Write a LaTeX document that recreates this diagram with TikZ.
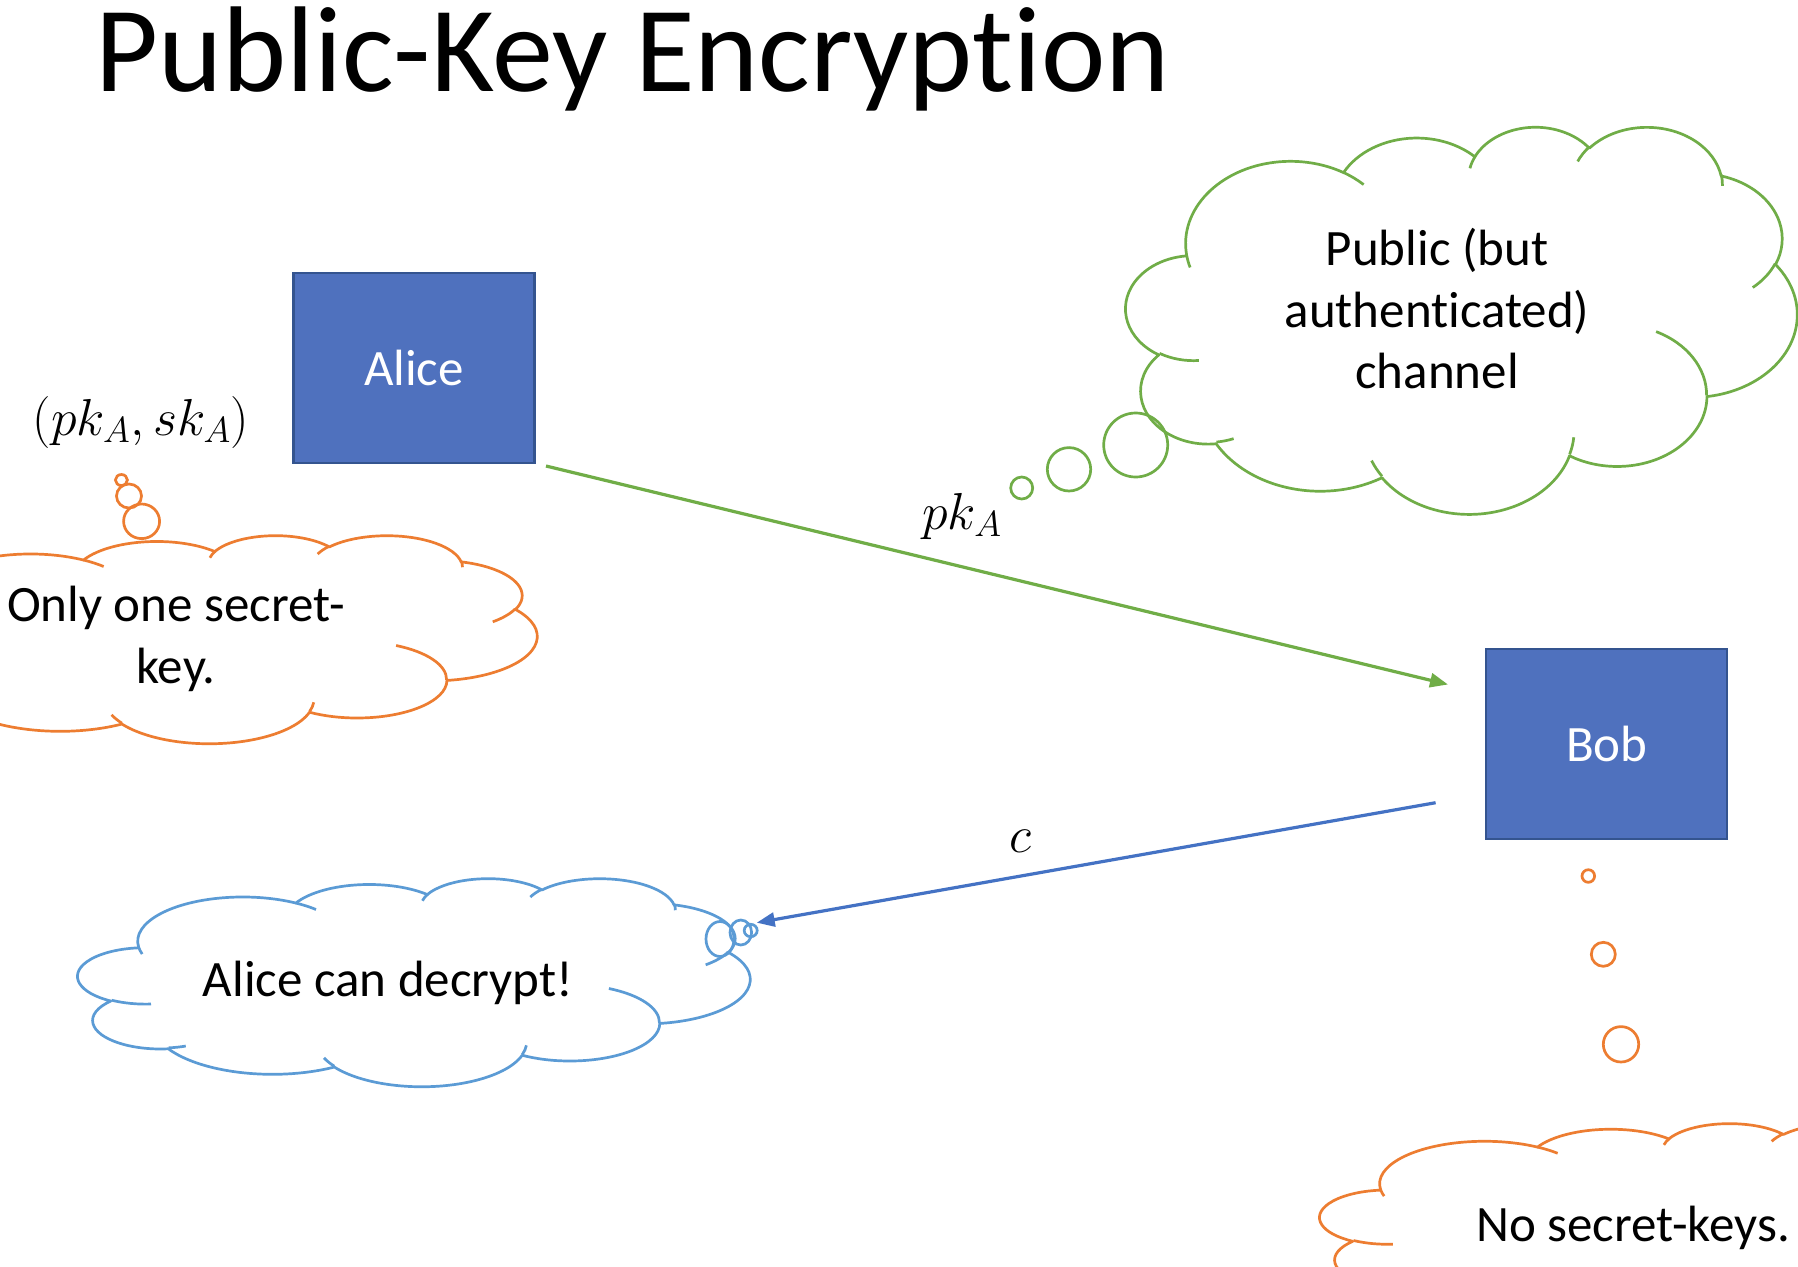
\RequirePackage{fix-cm}
\documentclass[tikz,border=0pt]{standalone}
\usepackage[no-math]{fontspec}
\setmainfont{Carlito}[Ligatures=NoCommon]
\usetikzlibrary{arrows.meta,calc}
\definecolor{pgreen}{HTML}{70AD47}
\definecolor{porange}{HTML}{ED7D31}
\definecolor{plblue}{HTML}{5B9BD5}
\definecolor{pblue}{HTML}{4472C4}
\definecolor{pboxfill}{HTML}{4F71BE}
\definecolor{pdark}{HTML}{34548F}

% one arc of the PowerPoint cloud geometry (visual angles -> parametric)
\newcommand\carc[4]{%
  \pgfextra{%
    \pgfmathsetmacro\cta{atan2((#1)*sin(#3),(#2)*cos(#3))}%
    \pgfmathsetmacro\ctb{atan2((#1)*sin((#3)+(#4)),(#2)*cos((#3)+(#4)))}%
    \pgfmathsetmacro\cdt{\ctb-\cta}%
    \pgfmathsetmacro\cdt{\cdt+360*((#4)>0)*(\cdt<0)-360*((#4)<0)*(\cdt>0)}%
    \pgfmathsetmacro\csa{0-(\cta)}%
    \pgfmathsetmacro\csd{0-(\cdt)}%
    \pgfmathsetmacro\crx{\cW/43.2*(#1)}%
    \pgfmathsetmacro\cry{\cH/43.2*(#2)}%
  }%
  arc[x radius=\crx pt, y radius=\cry pt, start angle=\csa, delta angle=\csd]%
}
% cloud: #1 left, #2 top, #3 width, #4 height, #5 colour
\newcommand\pptcloud[5]{%
  \def\cW{#3}\def\cH{#4}%
  \draw[cloudline,#5] ({#1+#3/43.2*3.900},{#2+#4/43.2*14.370})
    \carc{6.753}{9.190}{-190.48748}{123.78053}
    \carc{5.333}{7.267}{-144.10238}{89.94523}
    \carc{4.365}{5.945}{-145.80792}{99.72302}
    \carc{4.857}{6.595}{-130.98607}{117.24173}
    \carc{5.333}{7.273}{-78.70888}{109.02692}
    \carc{6.775}{9.220}{-46.26725}{130.26900}
    \carc{5.785}{7.867}{0.62502}{114.03333}
    \carc{6.752}{9.215}{22.45160}{115.17255}
    \carc{7.720}{10.543}{66.24263}{75.71102}
    \carc{4.360}{5.918}{-274.94208}{146.73557}
    \carc{4.345}{5.945}{-246.82850}{152.51885}
    -- cycle;
  \draw[cloudline,#5]
    ({#1+#3/43.2*4.693},{#2+#4/43.2*26.177}) \carc{4.345}{5.945}{86.74200}{26.42950}
    ({#1+#3/43.2*6.928},{#2+#4/43.2*34.899}) \carc{4.360}{5.918}{73.61047}{11.44747}
    ({#1+#3/43.2*16.478},{#2+#4/43.2*39.090}) \carc{6.752}{9.215}{137.62415}{14.08110}
    ({#1+#3/43.2*28.827},{#2+#4/43.2*34.751}) \carc{6.752}{9.215}{6.45327}{15.99835}
    ({#1+#3/43.2*34.129},{#2+#4/43.2*22.954}) \carc{5.785}{7.867}{-70.29235}{70.91737}
    ({#1+#3/43.2*41.798},{#2+#4/43.2*15.354}) \carc{5.333}{7.273}{30.31803}{27.75150}
    ({#1+#3/43.2*38.324},{#2+#4/43.2*5.426}) \carc{4.857}{6.595}{-13.74433}{14.85890}
    ({#1+#3/43.2*29.078},{#2+#4/43.2*3.952}) \carc{4.857}{6.595}{-149.18145}{18.19537}
    ({#1+#3/43.2*22.141},{#2+#4/43.2*4.720}) \carc{4.365}{5.945}{-163.49427}{17.68635}
    ({#1+#3/43.2*14.000},{#2+#4/43.2*5.192}) \carc{6.753}{9.190}{-66.70695}{12.31935}
    ({#1+#3/43.2*4.127},{#2+#4/43.2*15.789}) \carc{6.753}{9.190}{157.65435}{11.85817};
}

\begin{document}
\begin{tikzpicture}[x=1pt,y=-1pt,
  cloudline/.style={line width=2.7pt, line join=round},
  bubble/.style={line width=2.7pt},
  box/.style={draw=pdark, line width=2.2pt, fill=pboxfill, text=white,
    font=\fontsize{51}{61}\selectfont, minimum width=241pt, minimum height=190pt,
    inner sep=0pt, outer sep=0pt},
  txt/.style={font=\fontsize{51}{61.5}\selectfont, align=center, inner sep=0pt},
  mth/.style={font=\fontsize{52}{62}\selectfont, inner sep=0pt},
  link/.style={line width=3.2pt, -{Triangle[length=18pt,width=14pt]}},
]
\useasboundingbox (0,0) rectangle (1798,1266);
\clip (0,0) rectangle (1798,1266);
\fill[white] (0,0) rectangle (1798,1266);

% title
\node[inner sep=0pt, anchor=base west, text height=82pt, text depth=24pt,
  font=\fontsize{122}{140}\selectfont] (title) at (95,91) {Public-Key Encryption};

% clouds
\pptcloud{1126}{126}{671}{387}{pgreen}
\pptcloud{-134}{535}{671}{208}{porange}
\pptcloud{78}{878}{672}{208}{plblue}
\pptcloud{1320}{1123}{671}{200}{porange}

% thought bubbles
\draw[bubble, pgreen] (1021.7,488) circle[radius=11pt];
\draw[bubble, pgreen] (1069,469.3) circle[radius=21.7pt];
\draw[bubble, pgreen] (1135.7,445) circle[radius=32pt];
\draw[bubble, porange] (121.4,480) ellipse[x radius=6pt, y radius=5.5pt];
\draw[bubble, porange] (129,496) ellipse[x radius=12.5pt, y radius=12pt];
\draw[bubble, porange] (141.6,521.3) ellipse[x radius=18pt, y radius=17.3pt];
\draw[bubble, porange] (1588.3,876) circle[radius=6.3pt];
\draw[bubble, porange] (1603.3,954.3) circle[radius=12pt];
\draw[bubble, porange] (1621,1044.3) circle[radius=17.7pt];
\draw[bubble, plblue] (720,939) ellipse[x radius=14pt, y radius=17.5pt];
\draw[bubble, plblue] (740.8,932.5) ellipse[x radius=10.8pt, y radius=12.5pt];
\draw[bubble, plblue] (750.7,930.5) ellipse[x radius=6.5pt, y radius=6.2pt];

% cloud texts
\node[txt] (chan) at (1437,309) {Public (but\\authenticated)\\channel};
\node[txt] (only) at (176,639) {Only one secret-\\key.};
\node[txt, anchor=base] (dec) at (388,996) {Alice can decrypt!};
\node[txt, anchor=base] (nosk) at (1633,1241) {No secret-keys.};

% parties
\node[box] (alice) at (414,368.3) {Alice};
\node[box] (bob) at (1606.7,744.2) {Bob};

% key labels
\node[mth, anchor=base] (keys) at (141,435) {$(pk_A, sk_A)$};
\node[mth, anchor=base] (pklab) at (962,529) {$pk_A$};
\node[mth, anchor=base] (clab) at (1020.5,852) {$c$};

% connectors
\coordinate (gstart) at (546,466);
\coordinate (gend) at (1448,684.5);
\coordinate (bstart) at (1435.6,802.7);
\coordinate (bend) at (756.7,922.7);
\draw[link, pgreen] (gstart) -- (gend);
\draw[link, pblue] (bstart) -- (bend);
\end{tikzpicture}
\end{document}
